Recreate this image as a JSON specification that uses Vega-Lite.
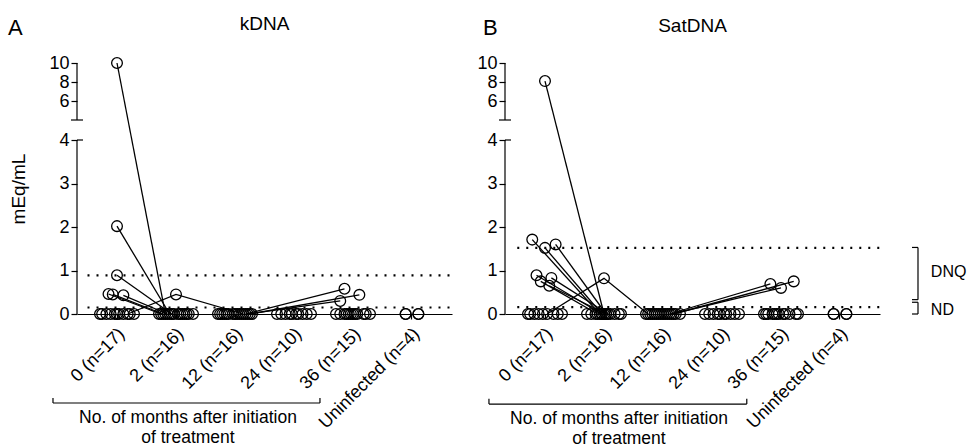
{
  "$schema": "https://vega.github.io/schema/vega-lite/v6.json",
  "background": "white",
  "padding": {"left": 8, "top": 14, "right": 0, "bottom": 0},
  "spacing": 22,
  "config": {
    "view": {"stroke": null},
    "font": "Liberation Sans",
    "axis": {"domainColor": "black", "tickColor": "black", "labelColor": "black", "titleColor": "black", "grid": false, "domainWidth": 1.2, "tickWidth": 1.2}
  },
  "datasets": {
    "kdna": [
      {"g":0,"r":0,"v":10,"id":"S1"},{"g":0,"r":0,"v":2.02,"id":"S2"},{"g":0,"r":0,"v":0.89,"id":"S3"},
      {"g":0,"r":-4,"v":0.46,"id":"S4"},{"g":0,"r":-2,"v":0.45,"id":"S5"},{"g":0,"r":3,"v":0.43,"id":"S6"},
      {"g":0,"r":5,"v":0,"id":"S7"},
      {"g":0,"r":-8,"v":0},{"g":0,"r":-7,"v":0},{"g":0,"r":-5,"v":0},{"g":0,"r":-3,"v":0},{"g":0,"r":-1,"v":0},
      {"g":0,"r":0,"v":0},{"g":0,"r":1,"v":0},{"g":0,"r":3,"v":0},{"g":0,"r":6,"v":0},{"g":0,"r":8,"v":0},
      {"g":1,"r":-5,"v":0,"id":"S1"},{"g":1,"r":-3,"v":0,"id":"S2"},{"g":1,"r":-2,"v":0,"id":"S3"},
      {"g":1,"r":-7,"v":0,"id":"S4"},{"g":1,"r":-6,"v":0,"id":"S5"},{"g":1,"r":-4,"v":0,"id":"S6"},
      {"g":1,"r":0,"v":0.45,"id":"S7"},
      {"g":1,"r":-8,"v":0},{"g":1,"r":-1,"v":0},{"g":1,"r":1,"v":0},{"g":1,"r":2,"v":0},{"g":1,"r":3,"v":0},
      {"g":1,"r":4,"v":0},{"g":1,"r":5,"v":0},{"g":1,"r":6,"v":0},{"g":1,"r":8,"v":0},
      {"g":2,"r":4,"v":0,"id":"S7"},{"g":2,"r":5,"v":0,"id":"S8"},{"g":2,"r":6,"v":0,"id":"S9"},{"g":2,"r":7,"v":0,"id":"S10"},
      {"g":2,"r":-8,"v":0},{"g":2,"r":-7,"v":0},{"g":2,"r":-6,"v":0},{"g":2,"r":-5,"v":0},{"g":2,"r":-4,"v":0},{"g":2,"r":-3,"v":0},
      {"g":2,"r":-1,"v":0},{"g":2,"r":0,"v":0},{"g":2,"r":1,"v":0},{"g":2,"r":2,"v":0},{"g":2,"r":3,"v":0},{"g":2,"r":8,"v":0},
      {"g":3,"r":-8,"v":0},{"g":3,"r":-6,"v":0},{"g":3,"r":-4,"v":0},{"g":3,"r":-2,"v":0},{"g":3,"r":-1,"v":0},
      {"g":3,"r":1,"v":0},{"g":3,"r":2,"v":0},{"g":3,"r":4,"v":0},{"g":3,"r":6,"v":0},{"g":3,"r":8,"v":0},
      {"g":4,"r":-4,"v":0.58,"id":"S8"},{"g":4,"r":-6,"v":0.3,"id":"S9"},{"g":4,"r":3,"v":0.44,"id":"S10"},
      {"g":4,"r":-8,"v":0},{"g":4,"r":-6,"v":0},{"g":4,"r":-4,"v":0},{"g":4,"r":-3,"v":0},{"g":4,"r":-2,"v":0},{"g":4,"r":-1,"v":0},
      {"g":4,"r":0,"v":0},{"g":4,"r":1,"v":0},{"g":4,"r":2,"v":0},{"g":4,"r":5,"v":0},{"g":4,"r":6,"v":0},{"g":4,"r":8,"v":0},
      {"g":5,"r":-3,"v":0},{"g":5,"r":-3,"v":0},{"g":5,"r":3,"v":0},{"g":5,"r":3,"v":0}
    ],
    "sat": [
      {"g":0,"r":0,"v":8.1,"id":"T1"},{"g":0,"r":-6,"v":1.71,"id":"T2"},{"g":0,"r":0,"v":1.52,"id":"T3"},
      {"g":0,"r":5,"v":1.6,"id":"T4"},{"g":0,"r":-4,"v":0.89,"id":"T5"},{"g":0,"r":-2,"v":0.75,"id":"T6"},
      {"g":0,"r":3,"v":0.83,"id":"T7"},{"g":0,"r":2,"v":0.65,"id":"T8"},{"g":0,"r":1,"v":0,"id":"T9"},
      {"g":0,"r":-8,"v":0},{"g":0,"r":-7,"v":0},{"g":0,"r":-5,"v":0},{"g":0,"r":-3,"v":0},
      {"g":0,"r":-1,"v":0},{"g":0,"r":4,"v":0},{"g":0,"r":6,"v":0},{"g":0,"r":8,"v":0},
      {"g":1,"r":0,"v":0,"id":"T1"},{"g":1,"r":-2,"v":0,"id":"T2"},{"g":1,"r":-1,"v":0,"id":"T3"},
      {"g":1,"r":1,"v":0,"id":"T4"},{"g":1,"r":-1,"v":0,"id":"T5"},{"g":1,"r":-3,"v":0,"id":"T6"},
      {"g":1,"r":2,"v":0,"id":"T7"},{"g":1,"r":1,"v":0,"id":"T8"},{"g":1,"r":0,"v":0.82,"id":"T9"},
      {"g":1,"r":-8,"v":0},{"g":1,"r":-6,"v":0},{"g":1,"r":-4,"v":0},{"g":1,"r":3,"v":0},
      {"g":1,"r":5,"v":0},{"g":1,"r":7,"v":0},{"g":1,"r":8,"v":0},
      {"g":2,"r":-7,"v":0,"id":"T9"},{"g":2,"r":3,"v":0,"id":"T10"},{"g":2,"r":4,"v":0,"id":"T11"},{"g":2,"r":5,"v":0,"id":"T12"},
      {"g":2,"r":-8,"v":0},{"g":2,"r":-6,"v":0},{"g":2,"r":-5,"v":0},{"g":2,"r":-4,"v":0},{"g":2,"r":-3,"v":0},{"g":2,"r":-2,"v":0},
      {"g":2,"r":-1,"v":0},{"g":2,"r":0,"v":0},{"g":2,"r":1,"v":0},{"g":2,"r":2,"v":0},{"g":2,"r":6,"v":0},{"g":2,"r":8,"v":0},
      {"g":3,"r":-8,"v":0},{"g":3,"r":-6,"v":0},{"g":3,"r":-4,"v":0},{"g":3,"r":-2,"v":0},{"g":3,"r":-1,"v":0},
      {"g":3,"r":1,"v":0},{"g":3,"r":2,"v":0},{"g":3,"r":4,"v":0},{"g":3,"r":6,"v":0},{"g":3,"r":8,"v":0},
      {"g":4,"r":-5,"v":0.69,"id":"T10"},{"g":4,"r":0,"v":0.6,"id":"T11"},{"g":4,"r":6,"v":0.75,"id":"T12"},
      {"g":4,"r":-8,"v":0},{"g":4,"r":-7,"v":0},{"g":4,"r":-6,"v":0},{"g":4,"r":-4,"v":0},{"g":4,"r":-3,"v":0},{"g":4,"r":-2,"v":0},
      {"g":4,"r":-1,"v":0},{"g":4,"r":1,"v":0},{"g":4,"r":2,"v":0},{"g":4,"r":4,"v":0},{"g":4,"r":7,"v":0},{"g":4,"r":8,"v":0},
      {"g":5,"r":-3,"v":0},{"g":5,"r":-3,"v":0},{"g":5,"r":3,"v":0},{"g":5,"r":3,"v":0}
    ]
  },
  "hconcat": [
    {
      "width": 375, "height": 251,
      "resolve": {"scale": {"x": "independent"}, "axis": {"x": "independent"}},
      "layer": [
        {
          "layer": [
            {
              "data": {"values": [{"lvl": 0.89}, {"lvl": 0.15}]},
              "mark": {"type": "rule", "color": "black", "strokeWidth": 2.2, "strokeDash": [2, 7]},
              "encoding": {"x": {"datum": -0.5, "type": "quantitative", "scale": {"domain": [-0.678, 5.678], "nice": false, "zero": false}, "axis": null}, "x2": {"datum": 5.678}, "y": {"field": "lvl", "type": "quantitative"}}
            },
            {
              "data": {"values": [{"lo": 0, "hi": 4}, {"lo": 4.01, "hi": 10}]},
              "mark": {"type": "rule", "color": "black", "strokeWidth": 1.2},
              "encoding": {"x": {"datum": -0.678, "type": "quantitative", "scale": {"domain": [-0.678, 5.678], "nice": false, "zero": false}, "axis": null}, "y": {"field": "lo", "type": "quantitative"}, "y2": {"field": "hi"}}
            },
            {
              "data": {"values": [{}]},
              "mark": {"type": "rule", "color": "black", "strokeWidth": 1.2},
              "encoding": {"x": {"datum": -0.678, "type": "quantitative", "scale": {"domain": [-0.678, 5.678], "nice": false, "zero": false}, "axis": null}, "x2": {"datum": -0.576}, "y": {"datum": 4}}
            },
            {
              "data": {"values": [{}]},
              "mark": {"type": "rule", "color": "black", "strokeWidth": 1.2},
              "encoding": {"x": {"datum": -0.78, "type": "quantitative", "scale": {"domain": [-0.678, 5.678], "nice": false, "zero": false}, "axis": null}, "x2": {"datum": -0.576}, "y": {"datum": 4.01}}
            },
            {
              "data": {"values": [{}]},
              "mark": {"type": "text", "text": "A", "fontSize": 22, "align": "left", "baseline": "alphabetic", "color": "black"},
              "encoding": {"x": {"datum": -1.847, "type": "quantitative", "scale": {"domain": [-0.678, 5.678], "nice": false, "zero": false}, "axis": null}, "y": {"datum": 12.95}}
            },
            {
              "data": {"values": [{}]},
              "mark": {"type": "text", "text": "kDNA", "fontSize": 19, "align": "center", "baseline": "alphabetic", "color": "black"},
              "encoding": {"x": {"datum": 2.5, "type": "quantitative", "scale": {"domain": [-0.678, 5.678], "nice": false, "zero": false}, "axis": null}, "y": {"datum": 13.5}}
            },
            {
              "data": {"values": [{}]},
              "mark": {"type": "rule", "color": "black", "strokeWidth": 1.2},
              "encoding": {"x": {"datum": -1.085, "type": "quantitative", "scale": {"domain": [-0.678, 5.678], "nice": false, "zero": false}, "axis": null}, "x2": {"datum": 3.44}, "y": {"datum": -2.046}}
            },
            {
              "data": {"values": [{"e": -1.085}, {"e": 3.44}]},
              "mark": {"type": "rule", "color": "black", "strokeWidth": 1.2},
              "encoding": {"x": {"field": "e", "type": "quantitative", "scale": {"domain": [-0.678, 5.678], "nice": false, "zero": false}, "axis": null}, "y": {"datum": -2.046}, "y2": {"datum": -1.93}}
            },
            {
              "data": {"values": [{}]},
              "mark": {"type": "text", "text": ["No. of months after initiation", "of treatment"], "fontSize": 17.5, "lineHeight": 20, "align": "center", "baseline": "alphabetic", "color": "black"},
              "encoding": {"x": {"datum": 1.203, "type": "quantitative", "scale": {"domain": [-0.678, 5.678], "nice": false, "zero": false}, "axis": null}, "y": {"datum": -2.505}}
            }
          ]
        },
        {
          "data": {"name": "kdna"},
          "layer": [
            {
              "transform": [{"filter": "datum.id"}],
              "mark": {"type": "line", "color": "black", "strokeWidth": 1.3},
              "encoding": {
                "x": {"field": "g", "type": "ordinal", "scale": {"type": "band", "domain": [0,1,2,3,4,5], "paddingInner": 0, "paddingOuter": 0.178}},
                "xOffset": {"field": "r", "type": "quantitative", "scale": {"domain": [-8, 8], "range": [12.5, 46.5]}},
                "y": {"field": "v", "type": "quantitative"},
                "detail": {"field": "id"},
                "order": {"field": "g"}
              }
            },
            {
              "mark": {"type": "point", "shape": "circle", "filled": false, "stroke": "black", "strokeWidth": 1.3, "size": 115, "opacity": 1},
              "encoding": {
                "x": {"field": "g", "type": "ordinal",
                  "scale": {"type": "band", "domain": [0,1,2,3,4,5], "paddingInner": 0, "paddingOuter": 0.178},
                  "axis": {"title": null, "labelAngle": -45, "labelFontSize": 18, "tickSize": 5, "labelOverlap": false, "labelBound": false, "labelFlush": false, "labelPadding": 12, "labelOffset": 5,
                    "labelExpr": "['0 (n=17)','2 (n=16)','12 (n=16)','24 (n=10)','36 (n=15)','Uninfected (n=4)'][datum.value]"}},
                "xOffset": {"field": "r", "type": "quantitative", "scale": {"domain": [-8, 8], "range": [12.5, 46.5]}},
                "y": {"field": "v", "type": "quantitative",
                  "scale": {"domain": [0, 4, 4.01, 10], "range": [251, 77, 57, 0], "nice": false, "zero": false},
                  "axis": {"values": [0,1,2,3,4,6,8,10], "tickCount": 20, "format": "d", "domain": false, "tickSize": 6, "labelFontSize": 18, "labelPadding": 2, "labelOverlap": false, "title": "mEq/mL", "titleFontSize": 19, "titleFontWeight": "normal", "titlePadding": 20}}
              }
            }
          ]
        }
      ]
    },
    {
      "width": 375, "height": 251,
      "resolve": {"scale": {"x": "independent"}, "axis": {"x": "independent"}},
      "layer": [
        {
          "layer": [
            {
              "data": {"values": [{"lvl": 1.52}, {"lvl": 0.16}]},
              "mark": {"type": "rule", "color": "black", "strokeWidth": 2.2, "strokeDash": [2, 7]},
              "encoding": {"x": {"datum": -0.47, "type": "quantitative", "scale": {"domain": [-0.678, 5.678], "nice": false, "zero": false}, "axis": null}, "x2": {"datum": 5.678}, "y": {"field": "lvl", "type": "quantitative"}}
            },
            {
              "data": {"values": [{"lo": 0, "hi": 4}, {"lo": 4.01, "hi": 10}]},
              "mark": {"type": "rule", "color": "black", "strokeWidth": 1.2},
              "encoding": {"x": {"datum": -0.678, "type": "quantitative", "scale": {"domain": [-0.678, 5.678], "nice": false, "zero": false}, "axis": null}, "y": {"field": "lo", "type": "quantitative"}, "y2": {"field": "hi"}}
            },
            {
              "data": {"values": [{}]},
              "mark": {"type": "rule", "color": "black", "strokeWidth": 1.2},
              "encoding": {"x": {"datum": -0.678, "type": "quantitative", "scale": {"domain": [-0.678, 5.678], "nice": false, "zero": false}, "axis": null}, "x2": {"datum": -0.576}, "y": {"datum": 4}}
            },
            {
              "data": {"values": [{}]},
              "mark": {"type": "rule", "color": "black", "strokeWidth": 1.2},
              "encoding": {"x": {"datum": -0.78, "type": "quantitative", "scale": {"domain": [-0.678, 5.678], "nice": false, "zero": false}, "axis": null}, "x2": {"datum": -0.576}, "y": {"datum": 4.01}}
            },
            {
              "data": {"values": [{}]},
              "mark": {"type": "text", "text": "B", "fontSize": 22, "align": "left", "baseline": "alphabetic", "color": "black"},
              "encoding": {"x": {"datum": -1.051, "type": "quantitative", "scale": {"domain": [-0.678, 5.678], "nice": false, "zero": false}, "axis": null}, "y": {"datum": 12.95}}
            },
            {
              "data": {"values": [{}]},
              "mark": {"type": "text", "text": "SatDNA", "fontSize": 19, "align": "center", "baseline": "alphabetic", "color": "black"},
              "encoding": {"x": {"datum": 2.5, "type": "quantitative", "scale": {"domain": [-0.678, 5.678], "nice": false, "zero": false}, "axis": null}, "y": {"datum": 13.3}}
            },
            {
              "data": {"values": [{}]},
              "mark": {"type": "rule", "color": "black", "strokeWidth": 1.2},
              "encoding": {"x": {"datum": -0.95, "type": "quantitative", "scale": {"domain": [-0.678, 5.678], "nice": false, "zero": false}, "axis": null}, "x2": {"datum": 3.42}, "y": {"datum": -2.07}}
            },
            {
              "data": {"values": [{"e": -0.95}, {"e": 3.42}]},
              "mark": {"type": "rule", "color": "black", "strokeWidth": 1.2},
              "encoding": {"x": {"field": "e", "type": "quantitative", "scale": {"domain": [-0.678, 5.678], "nice": false, "zero": false}, "axis": null}, "y": {"datum": -2.07}, "y2": {"datum": -1.95}}
            },
            {
              "data": {"values": [{}]},
              "mark": {"type": "text", "text": ["No. of months after initiation", "of treatment"], "fontSize": 17.5, "lineHeight": 20, "align": "center", "baseline": "alphabetic", "color": "black"},
              "encoding": {"x": {"datum": 1.254, "type": "quantitative", "scale": {"domain": [-0.678, 5.678], "nice": false, "zero": false}, "axis": null}, "y": {"datum": -2.53}}
            },
            {
              "data": {"values": [{"lo": 0.33, "hi": 1.53}, {"lo": 0, "hi": 0.27}]},
              "mark": {"type": "rule", "color": "black", "strokeWidth": 1.2},
              "encoding": {"x": {"datum": 6.322, "type": "quantitative", "scale": {"domain": [-0.678, 5.678], "nice": false, "zero": false}, "axis": null}, "y": {"field": "lo", "type": "quantitative"}, "y2": {"field": "hi"}}
            },
            {
              "data": {"values": [{"c": 0.33}, {"c": 1.53}, {"c": 0}, {"c": 0.27}]},
              "mark": {"type": "rule", "color": "black", "strokeWidth": 1.2},
              "encoding": {"x": {"datum": 6.22, "type": "quantitative", "scale": {"domain": [-0.678, 5.678], "nice": false, "zero": false}, "axis": null}, "x2": {"datum": 6.322}, "y": {"field": "c", "type": "quantitative"}}
            },
            {
              "data": {"values": [{"lab": "DNQ", "at": 0.97}, {"lab": "ND", "at": 0.1}]},
              "mark": {"type": "text", "fontSize": 16, "align": "left", "baseline": "middle", "color": "black"},
              "encoding": {"x": {"datum": 6.54, "type": "quantitative", "scale": {"domain": [-0.678, 5.678], "nice": false, "zero": false}, "axis": null}, "y": {"field": "at", "type": "quantitative"}, "text": {"field": "lab"}}
            }
          ]
        },
        {
          "data": {"name": "sat"},
          "layer": [
            {
              "transform": [{"filter": "datum.id"}],
              "mark": {"type": "line", "color": "black", "strokeWidth": 1.3},
              "encoding": {
                "x": {"field": "g", "type": "ordinal", "scale": {"type": "band", "domain": [0,1,2,3,4,5], "paddingInner": 0, "paddingOuter": 0.178}},
                "xOffset": {"field": "r", "type": "quantitative", "scale": {"domain": [-8, 8], "range": [12.5, 46.5]}},
                "y": {"field": "v", "type": "quantitative"},
                "detail": {"field": "id"},
                "order": {"field": "g"}
              }
            },
            {
              "mark": {"type": "point", "shape": "circle", "filled": false, "stroke": "black", "strokeWidth": 1.3, "size": 115, "opacity": 1},
              "encoding": {
                "x": {"field": "g", "type": "ordinal",
                  "scale": {"type": "band", "domain": [0,1,2,3,4,5], "paddingInner": 0, "paddingOuter": 0.178},
                  "axis": {"title": null, "labelAngle": -45, "labelFontSize": 18, "tickSize": 5, "labelOverlap": false, "labelBound": false, "labelFlush": false, "labelPadding": 12, "labelOffset": 5,
                    "labelExpr": "['0 (n=17)','2 (n=16)','12 (n=16)','24 (n=10)','36 (n=15)','Uninfected (n=4)'][datum.value]"}},
                "xOffset": {"field": "r", "type": "quantitative", "scale": {"domain": [-8, 8], "range": [12.5, 46.5]}},
                "y": {"field": "v", "type": "quantitative",
                  "scale": {"domain": [0, 4, 4.01, 10], "range": [251, 77, 57, 0], "nice": false, "zero": false},
                  "axis": {"values": [0,1,2,3,4,6,8,10], "tickCount": 20, "format": "d", "domain": false, "tickSize": 6, "labelFontSize": 18, "labelPadding": 2, "labelOverlap": false, "title": null}}
              }
            }
          ]
        }
      ]
    }
  ]
}
